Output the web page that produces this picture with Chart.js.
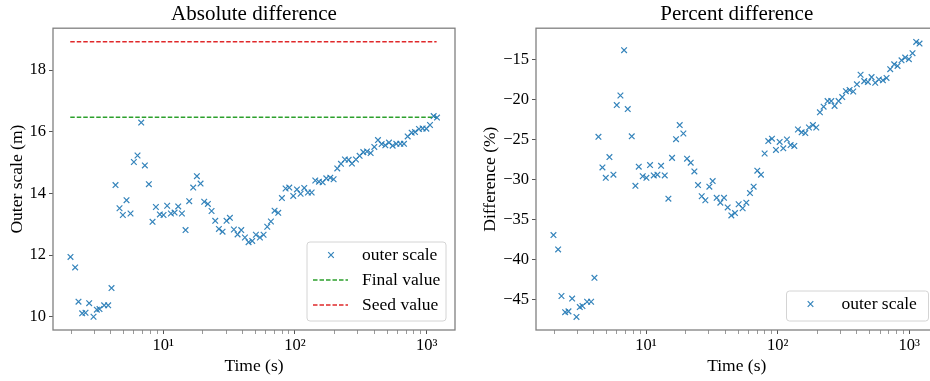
<html>
<head>
<script src="https://cdn.jsdelivr.net/npm/chart.js"></script>
<style>
	body {
		margin: 0;
		width: 930px;
		height: 381px;
		overflow: hidden;
		background: #fff;
		position: relative;
	}
	#absChart { position: absolute; left: 0; top: 0; }
	#pctChart { position: absolute; left: 465px; top: 0; }
</style>
</head>
<body>
<canvas id="absChart" width="465" height="381"></canvas>
<canvas id="pctChart" width="480" height="381"></canvas>
<script>
// sample times (s)
const times = [1.978, 2.146, 2.275, 2.426, 2.572, 2.742, 2.958, 3.135, 3.285, 3.563,
	3.822, 4.052, 4.345, 4.660, 4.940, 5.267, 5.648, 5.987, 6.384, 6.808,
	7.258, 7.783, 8.299, 8.800, 9.434, 10.06, 10.72, 11.44, 12.20, 13.00,
	13.87, 14.78, 15.76, 16.90, 18.02, 19.21, 20.48, 21.84, 23.29, 24.83,
	26.48, 28.22, 30.27, 32.08, 34.41, 36.69, 39.12, 41.72, 44.47, 47.41,
	50.55, 54.22, 57.81, 61.64, 65.72, 70.07, 74.70, 79.65, 84.92, 90.57,
	97.12, 103.6, 110.4, 117.7, 125.5, 133.9, 142.7, 152.2, 162.3, 173.0,
	185.5, 196.6, 209.6, 223.6, 239.7, 255.6, 270.9, 290.6, 309.8, 330.4,
	352.3, 375.5, 400.5, 427.0, 455.2, 485.4, 517.5, 551.8, 588.4, 631.0,
	672.7, 717.4, 769.2, 815.5, 874.4, 932.4, 994.3, 1060, 1130, 1198];

// outer scale (m)
const outerScale = [11.94, 11.60, 10.49, 10.11, 10.13, 10.44, 10.00, 10.23, 10.25, 10.37,
	10.37, 10.93, 14.27, 13.52, 13.30, 13.78, 13.35, 15.02, 15.23, 16.30,
	14.91, 14.30, 13.08, 13.56, 13.32, 13.30, 13.60, 13.35, 13.38, 13.58,
	13.35, 12.81, 13.75, 14.19, 14.56, 14.32, 13.73, 13.66, 13.43, 13.11,
	12.85, 12.76, 13.11, 13.21, 12.83, 12.67, 12.81, 12.57, 12.42, 12.46,
	12.66, 12.57, 12.66, 12.92, 13.09, 13.44, 13.37, 13.85, 14.16, 14.19,
	13.92, 14.13, 13.99, 14.18, 14.03, 14.03, 14.42, 14.38, 14.36, 14.49,
	14.51, 14.46, 14.81, 14.96, 15.10, 15.09, 14.97, 15.10, 15.22, 15.34,
	15.36, 15.31, 15.51, 15.73, 15.60, 15.56, 15.65, 15.55, 15.61, 15.61,
	15.61, 15.85, 15.97, 15.99, 16.09, 16.11, 16.10, 16.22, 16.51, 16.46];

// percent difference (%)
const percentDiff = [-36.96, -38.75, -44.58, -46.6, -46.5, -44.9, -47.2, -45.96, -45.83, -45.3,
	-45.3, -42.3, -24.67, -28.5, -29.8, -27.2, -29.4, -20.7, -19.5, -13.83,
	-21.2, -24.6, -30.8, -28.4, -29.6, -29.8, -28.2, -29.5, -29.4, -28.3,
	-29.5, -32.4, -27.3, -24.96, -23.2, -24.25, -27.4, -27.9, -29.0, -30.7,
	-32.1, -32.6, -30.9, -30.2, -32.3, -32.9, -32.3, -33.5, -34.5, -34.2,
	-33.1, -33.6, -32.9, -31.7, -30.9, -28.9, -29.4, -26.75, -25.2, -24.9,
	-26.3, -25.3, -26.1, -25.0, -25.7, -25.8, -23.75, -24.1, -24.2, -23.5,
	-23.2, -23.5, -21.6, -20.9, -20.2, -20.2, -20.8, -20.2, -19.7, -18.96,
	-18.8, -19.0, -18.1, -16.9, -17.7, -17.8, -17.2, -17.9, -17.5, -17.6,
	-17.3, -16.2, -15.6, -15.8, -15.1, -14.75, -14.96, -14.2, -12.8, -13.0];

const finalValue = 16.47;
const seedValue = 18.92;
const refLineTimes = [1.97, 1190];

const xMajorTicks = [10, 100, 1000];
const xMinorTicks = [2, 3, 4, 5, 6, 7, 8, 9, 20, 30, 40, 50, 60, 70, 80, 90,
	200, 300, 400, 500, 600, 700, 800, 900];
const absYTicks = [10, 12, 14, 16, 18];
const pctYTicks = [-45, -40, -35, -30, -25, -20, -15];

const serif = "'Liberation Serif', 'Times New Roman', serif";
const blue = 'rgba(31,119,180,0.9)';
const green = '#2ca02c';
const red = '#e0282a';
const supers = { 1: '\u00b9', 2: '\u00b2', 3: '\u00b3' };

Chart.defaults.font.family = serif;
Chart.defaults.color = '#000';

// axes frame drawn over the data
const framePlugin = {
	id: 'frame',
	afterDatasetsDraw(chart) {
		const { ctx, chartArea: a } = chart;
		ctx.save();
		ctx.strokeStyle = '#808080';
		ctx.lineWidth = 1.3;
		ctx.strokeRect(a.left, a.top, a.right - a.left, a.bottom - a.top);
		ctx.restore();
	}
};

// matplotlib style legend box in the lower right corner
const boxLegend = {
	id: 'boxLegend',
	afterDraw(chart, args, opts) {
		if (!opts.items) return;
		const { ctx, chartArea: a } = chart;
		const w = opts.width, h = opts.height;
		const x0 = a.right - 9 - w, y0 = a.bottom - 9 - h;
		ctx.save();
		ctx.beginPath();
		ctx.roundRect(x0, y0, w, h, 3);
		ctx.fillStyle = 'rgba(255,255,255,0.85)';
		ctx.fill();
		ctx.strokeStyle = '#d4d4d4';
		ctx.lineWidth = 1;
		ctx.stroke();
		opts.items.forEach((it, i) => {
			const y = y0 + 13 + i * 25;
			if (it.kind === 'marker') {
				const cx = x0 + 24, r = 2.8;
				ctx.beginPath();
				ctx.moveTo(cx - r, y - r); ctx.lineTo(cx + r, y + r);
				ctx.moveTo(cx - r, y + r); ctx.lineTo(cx + r, y - r);
				ctx.strokeStyle = it.color;
				ctx.lineWidth = 1.2;
				ctx.setLineDash([]);
				ctx.stroke();
			} else {
				ctx.beginPath();
				ctx.moveTo(x0 + 6, y); ctx.lineTo(x0 + 41, y);
				ctx.strokeStyle = it.color;
				ctx.lineWidth = 1.5;
				ctx.setLineDash([4.5, 2]);
				ctx.stroke();
				ctx.setLineDash([]);
			}
			ctx.fillStyle = '#000';
			ctx.font = '17.5px ' + serif;
			ctx.textBaseline = 'middle';
			ctx.textAlign = 'left';
			ctx.fillText(it.label, x0 + 55, y);
		});
		ctx.restore();
	}
};

function makeChart(id, o) {
	const datasets = [{
		label: 'outer scale',
		data: times.map((t, i) => ({ x: t, y: o.values[i] })),
		pointStyle: 'crossRot',
		pointRadius: 4,
		pointBorderColor: blue,
		pointBackgroundColor: blue,
		pointBorderWidth: 1.2,
		showLine: false
	}];
	o.lines.forEach(l => {
		datasets.push({
			label: l.label,
			data: refLineTimes.map(t => ({ x: t, y: l.value })),
			showLine: true,
			borderColor: l.color,
			borderWidth: 1.5,
			borderDash: [4.5, 2],
			pointRadius: 0
		});
	});

	return new Chart(document.getElementById(id), {
		type: 'scatter',
		data: { datasets: datasets },
		plugins: [framePlugin, boxLegend],
		options: {
			responsive: false,
			devicePixelRatio: 1,
			animation: false,
			events: [],
			layout: { padding: { left: 0, right: o.padRight, top: 0, bottom: 0 } },
			plugins: {
				legend: { display: false },
				tooltip: { enabled: false },
				title: {
					display: true,
					text: o.title,
					fullSize: false,
					font: { size: 21, weight: 'normal' },
					color: '#000',
					padding: { top: 2, bottom: 1 }
				},
				boxLegend: o.legend
			},
			scales: {
				x: {
					type: 'logarithmic',
					min: 1.457,
					max: 1641,
					afterBuildTicks: s => {
						s.ticks = xMinorTicks.concat(xMajorTicks)
							.sort((a, b) => a - b)
							.map(v => ({ value: v }));
					},
					ticks: {
						autoSkip: false,
						maxRotation: 0,
						padding: 2,
						font: { size: 16.5 },
						color: '#000',
						callback: v => xMajorTicks.includes(v) ? '10' + supers[Math.round(Math.log10(v))] : ''
					},
					grid: {
						drawOnChartArea: false,
						tickLength: 4,
						tickColor: '#555',
						tickWidth: c => (c.tick && xMajorTicks.includes(c.tick.value)) ? 1 : 0.6
					},
					border: { display: false },
					title: {
						display: true,
						text: 'Time (s)',
						font: { size: 17.5 },
						color: '#000',
						padding: { top: 0, bottom: 4 }
					},
					afterFit: s => { s.height = 51; }
				},
				y: {
					min: o.yMin,
					max: o.yMax,
					afterBuildTicks: s => { s.ticks = o.yTicks.map(v => ({ value: v })); },
					ticks: {
						padding: 3,
						font: { size: 16.5 },
						color: '#000',
						callback: v => String(v).replace('-', '\u2212')
					},
					grid: { drawOnChartArea: false, tickLength: 4, tickColor: '#555' },
					border: { display: false },
					title: {
						display: true,
						text: o.yTitle,
						font: { size: 17.5 },
						color: '#000',
						padding: { top: o.yTitlePad, bottom: 0 }
					},
					afterFit: s => { s.width = o.yWidth; }
				}
			}
		}
	});
}

makeChart('absChart', {
	title: 'Absolute difference',
	yTitle: 'Outer scale (m)',
	values: outerScale,
	yMin: 9.57, yMax: 19.36, yTicks: absYTicks,
	yWidth: 53, yTitlePad: 7, padRight: 10,
	lines: [
		{ label: 'Final value', value: finalValue, color: green },
		{ label: 'Seed value', value: seedValue, color: red }
	],
	legend: {
		width: 139, height: 79,
		items: [
			{ kind: 'marker', label: 'outer scale', color: blue },
			{ kind: 'line', label: 'Final value', color: green },
			{ kind: 'line', label: 'Seed value', color: red }
		]
	}
});

makeChart('pctChart', {
	title: 'Percent difference',
	yTitle: 'Difference (%)',
	values: percentDiff,
	yMin: -48.83, yMax: -11.08, yTicks: pctYTicks,
	yWidth: 71, yTitlePad: 15, padRight: 7.5,
	lines: [],
	legend: {
		width: 142, height: 30,
		items: [{ kind: 'marker', label: 'outer scale', color: blue }]
	}
});
</script>
</body>
</html>
